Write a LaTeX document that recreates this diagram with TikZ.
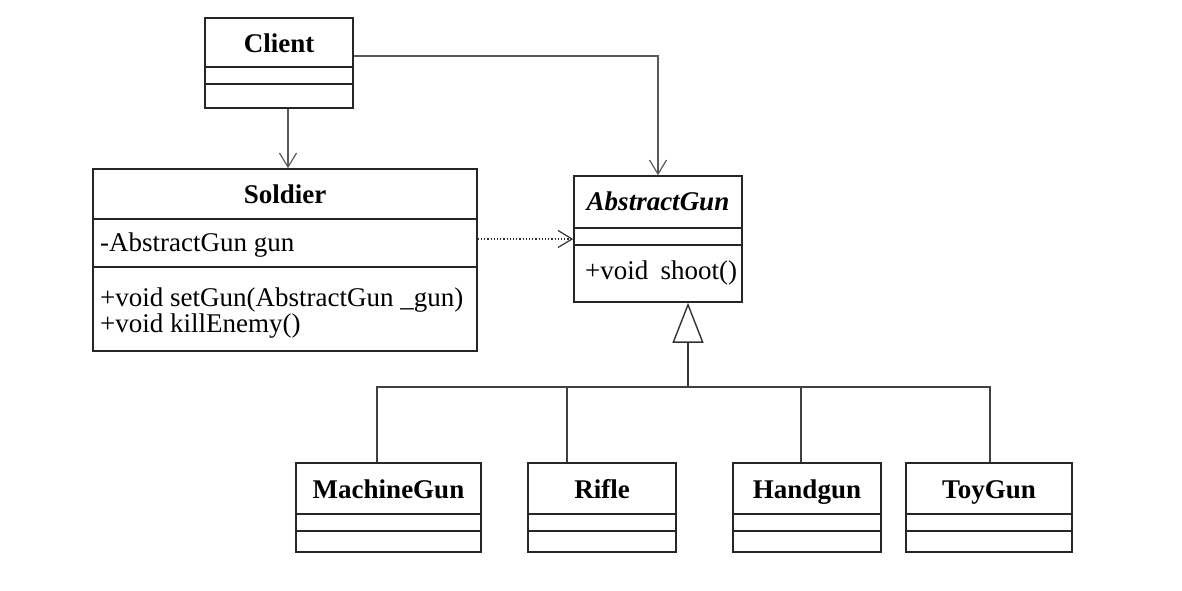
\documentclass[tikz,border=0pt]{standalone}
\usepackage{fontspec}
\setmainfont{Liberation Serif}
\usetikzlibrary{arrows.meta}
\tikzset{
  cls/.style={draw=black!85, line width=1.6pt, inner sep=0pt},
  sep/.style={draw=black!85, line width=1.6pt},
  title/.style={font=\fontsize{27}{30}\selectfont\bfseries, inner sep=0pt, anchor=base},
  member/.style={font=\fontsize{27}{30}\selectfont, anchor=base west, inner sep=0pt},
  assoc/.style={draw=black!65, line width=1.2pt, -{Straight Barb[length=14pt,width=17pt]}},
  depend/.style={draw=black!80, line width=1.2pt, dotted, -{Straight Barb[length=14pt,width=17pt]}},
  inherit/.style={draw=black!80, line width=1.4pt, -{Triangle[open,length=40pt,width=31pt,fill=white]}},
  branch/.style={draw=black!75, line width=1.4pt},
}
\begin{document}
\begin{tikzpicture}[x=1pt, y=-1pt]
\useasboundingbox (0,0) rectangle (1182,590);
% class boxes
\node[cls, minimum width=148pt, minimum height=90pt] (client) at (279,63) {};
\node[cls, minimum width=384pt, minimum height=182pt] (soldier) at (285,260) {};
\node[cls, minimum width=168pt, minimum height=126pt] (abstractgun) at (658,239) {};
\node[cls, minimum width=185pt, minimum height=89pt] (machinegun) at (388.5,507.5) {};
\node[cls, minimum width=148pt, minimum height=89pt] (rifle) at (602,507.5) {};
\node[cls, minimum width=148pt, minimum height=89pt] (handgun) at (807,507.5) {};
\node[cls, minimum width=166pt, minimum height=89pt] (toygun) at (989,507.5) {};
% compartments
\draw[sep] (client.west |- 0,67) -- (client.east |- 0,67);
\draw[sep] (client.west |- 0,84) -- (client.east |- 0,84);
\draw[sep] (soldier.west |- 0,219) -- (soldier.east |- 0,219);
\draw[sep] (soldier.west |- 0,267) -- (soldier.east |- 0,267);
\draw[sep] (abstractgun.west |- 0,228) -- (abstractgun.east |- 0,228);
\draw[sep] (abstractgun.west |- 0,245) -- (abstractgun.east |- 0,245);
\foreach \k in {machinegun, rifle, handgun, toygun} {
  \draw[sep] (\k.west |- 0,514) -- (\k.east |- 0,514);
  \draw[sep] (\k.west |- 0,531) -- (\k.east |- 0,531);
}
% texts
\node[title] (clientname) at (279,52) {Client};
\node[title] (soldiername) at (285,203) {Soldier};
\node[title] (abstractgunname) at (658,210) {\itshape AbstractGun};
\node[title] (machinegunname) at (388.5,498) {MachineGun};
\node[title] (riflename) at (602,498) {Rifle};
\node[title] (handgunname) at (807,498) {Handgun};
\node[title] (toygunname) at (989,498) {ToyGun};
\node[member] (soldiergun) at (100,251) {-AbstractGun gun};
\node[member] (soldierset) at (100,306) {+void setGun(AbstractGun \_gun)};
\node[member] (soldierkill) at (100,332) {+void killEnemy()};
\node[member] (abstractgunshoot) at (585,279) {+void\hspace{0.45em}shoot()};
% connectors
\coordinate (bus) at (688,387);
\draw[assoc] ([xshift=9pt]client.south) -- ([xshift=9pt]client.south |- soldier.north);
\draw[assoc] ([yshift=7pt]client.east) -| (abstractgun.north);
\draw[depend] (soldier.east |- abstractgun.west) -- (abstractgun.west);
\draw[inherit] (bus) -- ([xshift=30pt]abstractgun.south);
\draw[branch] ([xshift=-11.5pt]machinegun.north) |- (bus);
\draw[branch] ([xshift=-35pt]rifle.north) |- (bus);
\draw[branch] ([xshift=-6pt]handgun.north) |- (bus);
\draw[branch] ([xshift=1pt]toygun.north) |- (bus);
\end{tikzpicture}
\end{document}
